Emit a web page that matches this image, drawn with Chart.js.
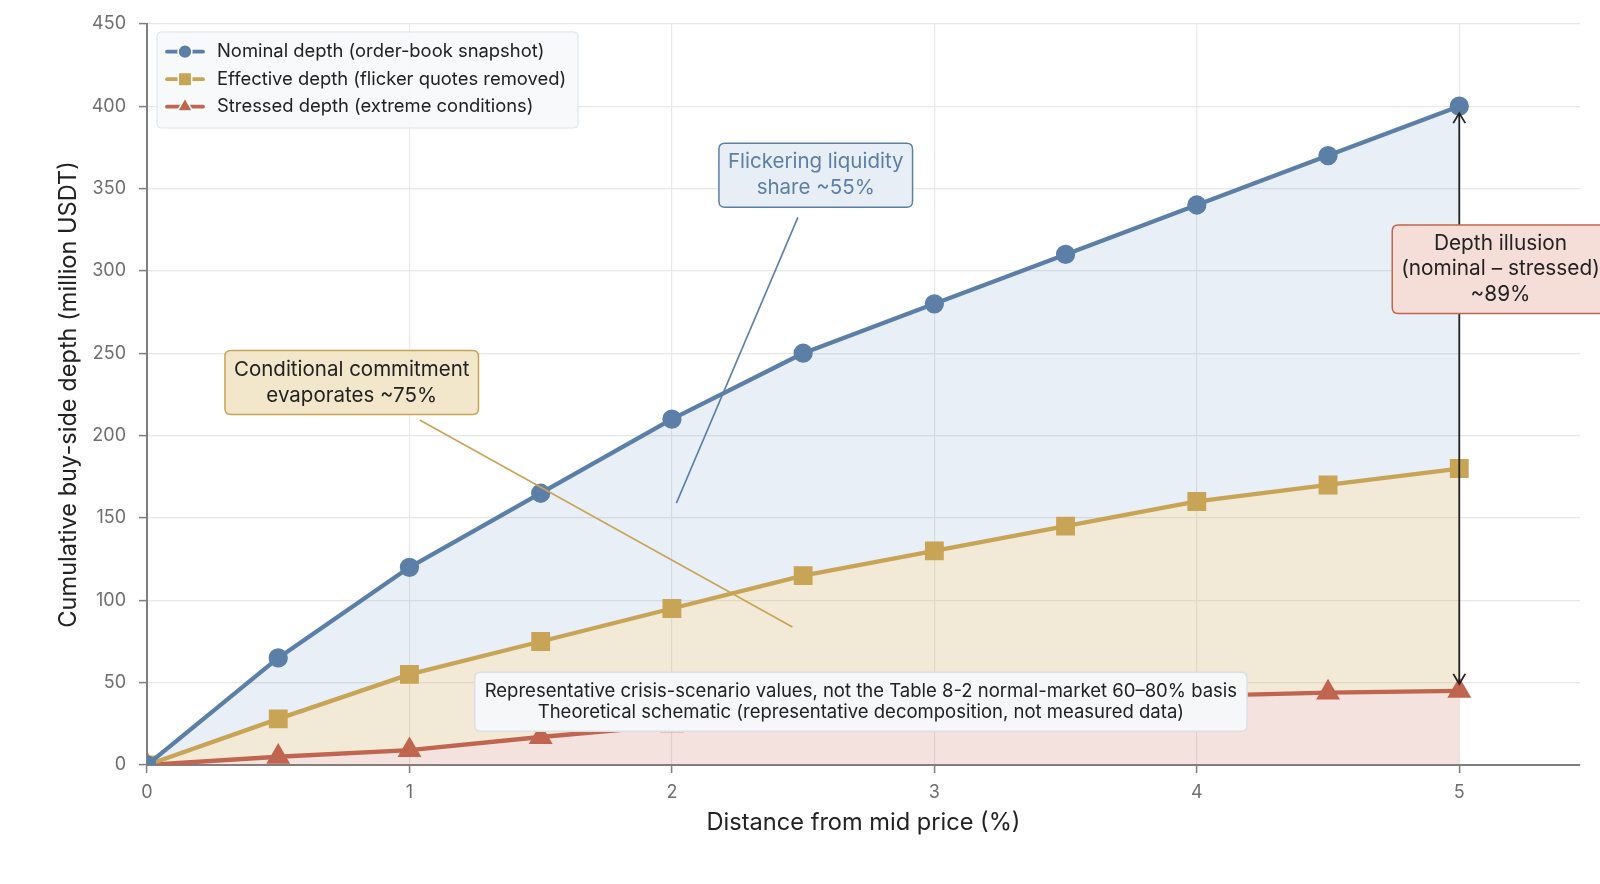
<!DOCTYPE html>
<html>
<head>
<meta charset="utf-8">
<title>Order-book depth decomposition</title>
<script src="https://cdn.jsdelivr.net/npm/chart.js@4.4.1/dist/chart.umd.min.js"></script>
<style>
  html, body { margin: 0; padding: 0; background: #fff; }
  #wrap { width: 1600px; height: 884px; }
</style>
</head>
<body>
<div id="wrap"><canvas id="depthChart" width="1600" height="884"></canvas></div>
<script>
// values
const distance = [0, 0.5, 1, 1.5, 2, 2.5, 3, 3.5, 4, 4.5, 5];
const nominalDepth = [0, 65, 120, 165, 210, 250, 280, 310, 340, 370, 400];
const effectiveDepth = [0, 28, 55, 75, 95, 115, 130, 145, 160, 170, 180];
const stressedDepth = [0, 5, 9, 17, 24, 28, 33, 37, 42, 44, 45];
const xTicks = [0, 1, 2, 3, 4, 5];
const yTicks = [0, 50, 100, 150, 200, 250, 300, 350, 400, 450];
const seriesLabels = [
  'Nominal depth (order-book snapshot)',
  'Effective depth (flicker quotes removed)',
  'Stressed depth (extreme conditions)'
];

const FONT = 'Inter, "Liberation Sans", Arial, sans-serif';
const BLUE = '#5b7fa6';
const GOLD = '#c8a456';
const RED = '#c0654f';
const INK = '#222222';

// callout boxes, anchored in data coordinates
const callouts = [
  { lines: ['Flickering liquidity', 'share ~55%'], x: 2.548, y: 358, size: 20.5, lineH: 26, padX: 9, padY: 6,
    fill: '#e8eef6', stroke: BLUE, color: BLUE },
  { lines: ['Conditional commitment', 'evaporates ~75%'], x: 0.78, y: 232.3, size: 20.5, lineH: 26, padX: 9, padY: 6,
    fill: '#f2e7cb', stroke: GOLD, color: INK },
  { lines: ['Depth illusion', '(nominal \u2013 stressed)', '~89%'], x: 5.157, y: 301, size: 20.8, lineH: 25.5, padX: 9, padY: 6,
    fill: '#f4ded7', stroke: RED, color: INK },
  { lines: ['Representative crisis-scenario values, not the Table 8-2 normal-market 60\u201380% basis',
            'Theoretical schematic (representative decomposition, not measured data)'],
    x: 2.72, y: 38.4, size: 18.5, lineH: 21, padX: 10, padY: 8.5,
    fill: '#f6f7f9', stroke: '#dcdfe4', color: INK }
];
const leaders = [
  { from: [2.48, 332.5], to: [2.017, 159], color: BLUE },
  { from: [1.039, 209.5], to: [2.459, 83.8], color: GOLD }
];

function roundRect(ctx, x, y, w, h, r) {
  ctx.beginPath();
  ctx.moveTo(x + r, y);
  ctx.lineTo(x + w - r, y);
  ctx.quadraticCurveTo(x + w, y, x + w, y + r);
  ctx.lineTo(x + w, y + h - r);
  ctx.quadraticCurveTo(x + w, y + h, x + w - r, y + h);
  ctx.lineTo(x + r, y + h);
  ctx.quadraticCurveTo(x, y + h, x, y + h - r);
  ctx.lineTo(x, y + r);
  ctx.quadraticCurveTo(x, y, x + r, y);
  ctx.closePath();
}

function drawCallout(ctx, cx, cy, c) {
  ctx.font = c.size + 'px ' + FONT;
  const textW = Math.max(...c.lines.map(l => ctx.measureText(l).width));
  const w = textW + 2 * c.padX;
  const h = c.lines.length * c.lineH + 2 * c.padY;
  roundRect(ctx, cx - w / 2, cy - h / 2, w, h, 6);
  ctx.fillStyle = c.fill;
  ctx.fill();
  ctx.lineWidth = 1.5;
  ctx.strokeStyle = c.stroke;
  ctx.stroke();
  ctx.fillStyle = c.color;
  ctx.textAlign = 'center';
  ctx.textBaseline = 'middle';
  c.lines.forEach((line, i) => {
    ctx.fillText(line, cx, cy - h / 2 + c.padY + c.lineH * (i + 0.5));
  });
}

function arrowHead(ctx, x, y, dir) {
  ctx.beginPath();
  ctx.moveTo(x - 6, y - dir * 10);
  ctx.lineTo(x, y);
  ctx.lineTo(x + 6, y - dir * 10);
  ctx.stroke();
}

function drawLegend(chart) {
  const ctx = chart.ctx;
  ctx.font = '18.4px ' + FONT;
  const textW = Math.max(...seriesLabels.map(l => ctx.measureText(l).width));
  const left = 157, top = 32;
  const w = 60 + textW + 12, h = 96;
  roundRect(ctx, left, top, w, h, 4);
  ctx.fillStyle = 'rgba(246,248,250,0.92)';
  ctx.fill();
  ctx.lineWidth = 1;
  ctx.strokeStyle = '#dde2e8';
  ctx.stroke();
  chart.data.datasets.forEach((ds, i) => {
    const yy = top + 19.7 + i * 27.5;
    ctx.strokeStyle = ds.borderColor;
    ctx.lineWidth = 3.8;
    ctx.lineCap = 'round';
    ctx.beginPath();
    ctx.moveTo(167, yy);
    ctx.lineTo(203, yy);
    ctx.stroke();
    ctx.fillStyle = ds.borderColor;
    ctx.strokeStyle = '#fff';
    ctx.lineWidth = 1.5;
    Chart.helpers.drawPoint(ctx, { pointStyle: ds.pointStyle, radius: ds.pointRadius * 0.92, borderWidth: 1.5, rotation: 0 }, 185, yy);
    ctx.fillStyle = INK;
    ctx.textAlign = 'left';
    ctx.textBaseline = 'middle';
    ctx.fillText(ds.label, 217, yy);
  });
}

const annotationPlugin = {
  id: 'depthAnnotations',
  afterDatasetsDraw(chart) {
    const { ctx, scales: { x, y } } = chart;
    ctx.save();
    leaders.forEach(l => {
      ctx.strokeStyle = l.color;
      ctx.lineWidth = 1.6;
      ctx.beginPath();
      ctx.moveTo(x.getPixelForValue(l.from[0]), y.getPixelForValue(l.from[1]));
      ctx.lineTo(x.getPixelForValue(l.to[0]), y.getPixelForValue(l.to[1]));
      ctx.stroke();
    });

    // depth illusion arrow between nominal and stressed at 5%
    const last = distance.length - 1;
    const ax = x.getPixelForValue(distance[last]);
    const yTop = y.getPixelForValue(nominalDepth[last]) + 7;
    const yBot = y.getPixelForValue(stressedDepth[last]) - 7;
    ctx.strokeStyle = INK;
    ctx.lineWidth = 1.8;
    ctx.lineCap = 'butt';
    ctx.beginPath();
    ctx.moveTo(ax, yTop);
    ctx.lineTo(ax, yBot);
    ctx.stroke();
    arrowHead(ctx, ax, yTop, -1);
    arrowHead(ctx, ax, yBot, 1);

    callouts.forEach(c => drawCallout(ctx, x.getPixelForValue(c.x), y.getPixelForValue(c.y), c));
    drawLegend(chart);
    ctx.restore();
  }
};

function series(values) {
  return distance.map((d, i) => ({ x: d, y: values[i] }));
}

new Chart(document.getElementById('depthChart'), {
  type: 'line',
  data: {
    datasets: [
      {
        label: seriesLabels[0], data: series(nominalDepth),
        borderColor: BLUE, backgroundColor: 'rgba(70,120,190,0.12)', fill: '+1', borderWidth: 4.3,
        pointStyle: 'circle', pointRadius: 7.5, pointBackgroundColor: BLUE
      },
      {
        label: seriesLabels[1], data: series(effectiveDepth),
        borderColor: GOLD, backgroundColor: 'rgba(200,164,86,0.24)', fill: '+1', borderWidth: 4.3,
        pointStyle: 'rect', pointRadius: 10.3, pointBackgroundColor: GOLD
      },
      {
        label: seriesLabels[2], data: series(stressedDepth),
        borderColor: RED, backgroundColor: 'rgba(192,101,79,0.19)', fill: 'origin', borderWidth: 4.3,
        pointStyle: 'triangle', pointRadius: 9.5, pointBackgroundColor: RED
      }
    ]
  },
  options: {
    responsive: false,
    animation: false,
    devicePixelRatio: 1,
    layout: { padding: { top: 22, right: 20, left: 0, bottom: 0 } },
    elements: {
      line: { tension: 0, borderJoinStyle: 'round', borderCapStyle: 'round' },
      point: { borderColor: '#fff', borderWidth: 1.5 }
    },
    plugins: {
      legend: { display: false },
      tooltip: { enabled: false },
      filler: { drawTime: 'beforeDatasetsDraw', propagate: false }
    },
    scales: {
      x: {
        type: 'linear', min: 0, max: 5.46,
        afterBuildTicks: s => { s.ticks = xTicks.map(v => ({ value: v })); },
        afterFit: s => { s.height = 119; },
        grid: { color: '#e8e8e8', lineWidth: 1.2, tickColor: '#7f7f7f', tickLength: 8, tickWidth: 1.5 },
        border: { color: '#7f7f7f', width: 2 },
        ticks: { color: '#6e6e6e', font: { family: FONT, size: 18 }, padding: 9, maxRotation: 0 },
        title: { display: true, text: 'Distance from mid price (%)', color: INK,
                 font: { family: FONT, size: 23.6 }, padding: { top: 0, bottom: 46.5 } }
      },
      y: {
        min: 0, max: 450,
        afterBuildTicks: s => { s.ticks = yTicks.map(v => ({ value: v })); },
        afterFit: s => { s.width = 147; },
        grid: { color: '#e8e8e8', lineWidth: 1.2, tickColor: '#7f7f7f', tickLength: 8, tickWidth: 1.5 },
        border: { color: '#7f7f7f', width: 2 },
        ticks: { color: '#6e6e6e', font: { family: FONT, size: 18 }, padding: 13 },
        title: { display: true, text: 'Cumulative buy-side depth (million USDT)', color: INK,
                 font: { family: FONT, size: 23.6 }, padding: { top: 55, bottom: 0 } }
      }
    }
  },
  plugins: [annotationPlugin]
});
</script>
</body>
</html>
